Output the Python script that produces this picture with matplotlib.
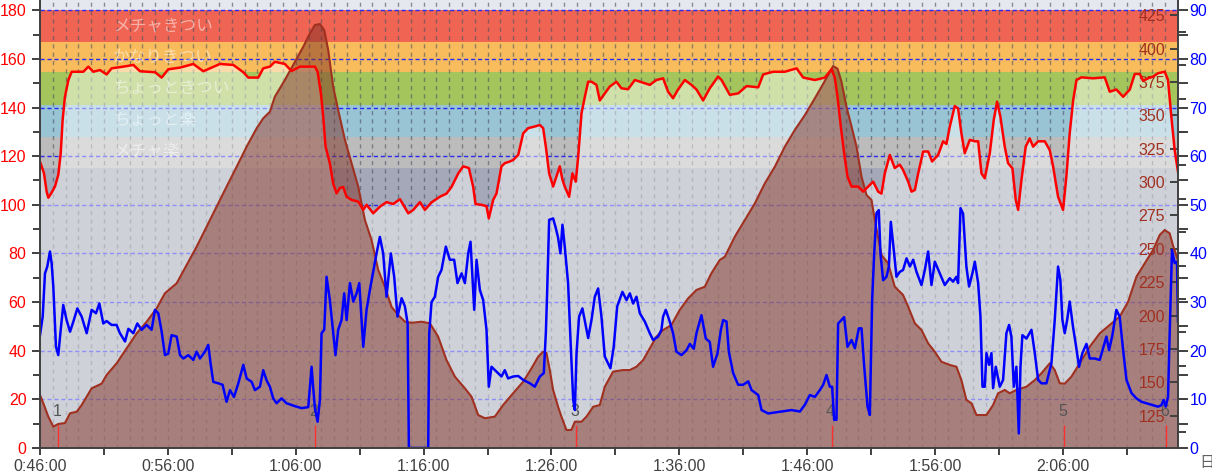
import matplotlib
matplotlib.use("Agg")
import matplotlib.pyplot as plt
from matplotlib.ticker import FuncFormatter, MultipleLocator
import numpy as np

plt.rcParams["font.family"] = ["Liberation Sans", "DejaVu Sans"]

# elapsed time in minutes, heart rate (bpm)
hr_min = [46.0, 46.31, 46.52, 46.65, 46.91, 47.17, 47.43, 47.62, 47.77, 47.95,
          48.22, 48.48, 49.39, 49.78, 50.17, 50.69, 51.21, 51.6, 52.52, 53.3,
          53.82, 55.0, 55.51, 56.03, 56.95, 57.99, 58.77, 60.07, 61.12, 61.9,
          62.29, 63.07, 63.46, 63.98, 64.37, 65.15, 65.67, 66.33, 67.5, 67.71,
          67.97, 68.15, 68.33, 68.67, 68.93, 69.19, 69.45, 69.71, 69.98, 70.37,
          70.89, 71.28, 71.54, 72.06, 72.58, 73.1, 73.62, 74.15, 74.8, 75.19,
          75.71, 76.1, 76.62, 77.27, 77.79, 78.18, 78.71, 79.1, 79.54, 79.88,
          80.06, 80.53, 80.92, 81.1, 81.44, 81.7, 82.09, 82.35, 82.74, 83.0,
          83.4, 83.79, 84.18, 84.7, 85.09, 85.35, 85.56, 85.82, 86.13, 86.39,
          86.65, 86.86, 87.04, 87.38, 87.64, 87.9, 88.09, 88.35, 88.61, 88.87,
          89.13, 89.52, 89.78, 90.17, 90.56, 91.08, 91.47, 91.99, 92.52, 93.17,
          93.69, 94.21, 94.73, 95.12, 95.51, 95.9, 96.43, 96.95, 97.34, 97.86,
          98.38, 99.03, 99.3, 99.95, 100.6, 101.26, 102.17, 102.56, 103.34, 104.25,
          105.17, 105.69, 106.6, 107.38, 107.9, 108.16, 108.37, 108.63, 108.89, 109.15,
          109.47, 109.99, 110.38, 110.77, 111.16, 111.55, 111.81, 112.07, 112.46, 112.85,
          113.24, 113.5, 113.9, 114.16, 114.42, 114.68, 115.07, 115.46, 115.77, 116.24,
          116.63, 116.89, 117.15, 117.54, 117.8, 118.06, 118.32, 118.72, 119.11, 119.37,
          119.63, 119.89, 120.28, 120.59, 120.85, 121.11, 121.45, 121.71, 122.05, 122.31,
          122.5, 122.76, 123.09, 123.4, 123.67, 124.06, 124.58, 124.97, 125.23, 125.62,
          126.01, 126.27, 126.53, 126.8, 127.06, 127.45, 128.36, 129.27, 129.66, 130.18,
          130.71, 131.23, 131.62, 132.01, 132.27, 132.66, 133.05, 133.44, 133.96, 134.22,
          134.48, 134.74, 135.0]
hr_bpm = [117.7, 113.0, 105.4, 102.9, 105.0, 107.5, 112.3, 121.2, 134.9, 144.4,
          151.3, 154.7, 154.7, 156.8, 154.7, 155.4, 153.6, 156.1, 156.8, 157.5,
          154.9, 154.5, 152.3, 155.7, 156.4, 157.9, 154.9, 157.9, 157.5, 154.5,
          152.3, 152.3, 156.1, 156.8, 158.8, 157.9, 155.0, 156.8, 156.8, 154.7,
          145.8, 136.2, 124.0, 117.0, 108.7, 104.7, 106.9, 107.3, 103.3, 102.0,
          101.3, 97.9, 100.0, 96.5, 99.2, 101.1, 100.3, 102.3, 96.5, 97.9,
          101.1, 97.9, 101.0, 103.3, 104.6, 107.3, 112.9, 115.8, 115.1, 107.3,
          100.3, 100.0, 99.4, 94.4, 102.0, 104.6, 115.8, 117.1, 117.8, 118.4,
          120.5, 129.4, 131.5, 132.2, 132.8, 131.5, 123.9, 112.9, 107.5, 111.6,
          115.8, 110.3, 107.5, 103.3, 112.9, 109.5, 119.8, 137.6, 144.4, 150.6,
          150.6, 149.3, 142.9, 145.8, 148.6, 150.6, 147.9, 147.5, 151.3, 150.2,
          149.3, 151.3, 152.0, 146.5, 143.8, 147.4, 151.3, 149.3, 147.4, 142.9,
          147.9, 152.7, 151.3, 145.2, 145.8, 148.8, 148.3, 153.6, 154.7, 154.7,
          156.1, 152.3, 151.3, 152.3, 155.7, 152.3, 144.4, 132.1, 121.2, 111.6,
          107.5, 107.5, 105.4, 107.5, 109.5, 105.4, 104.6, 112.9, 120.5, 115.1,
          116.5, 114.3, 109.5, 105.4, 106.1, 112.9, 121.9, 121.9, 117.8, 120.5,
          126.1, 125.0, 132.1, 140.6, 139.6, 129.4, 121.2, 126.7, 126.1, 126.1,
          112.9, 110.9, 121.2, 134.9, 142.4, 136.2, 123.9, 117.1, 115.0, 102.0,
          97.9, 110.3, 123.9, 127.3, 123.9, 126.1, 126.1, 122.5, 115.8, 103.3,
          97.9, 111.6, 129.4, 142.9, 151.3, 152.4, 152.0, 152.4, 146.5, 147.4,
          144.4, 147.4, 153.8, 153.8, 151.0, 152.0, 152.7, 154.1, 154.7, 151.3,
          136.2, 122.5, 113.6]

# speed (km/h)
spd_min = [46.0, 46.21, 46.39, 46.57, 46.78, 46.91, 47.04, 47.25, 47.43, 47.62,
           47.82, 48.08, 48.35, 48.61, 48.92, 49.26, 49.65, 50.04, 50.38, 50.64,
           50.95, 51.21, 51.6, 51.99, 52.25, 52.65, 52.91, 53.3, 53.61, 53.95,
           54.34, 54.73, 54.99, 55.25, 55.51, 55.77, 56.03, 56.29, 56.69, 56.95,
           57.21, 57.6, 57.99, 58.25, 58.51, 58.9, 59.16, 59.34, 59.55, 59.94,
           60.28, 60.59, 60.86, 61.17, 61.51, 61.9, 62.16, 62.55, 62.81, 63.2,
           63.46, 63.72, 63.98, 64.24, 64.5, 64.89, 65.28, 65.94, 66.46, 66.98,
           67.24, 67.37, 67.5, 67.71, 67.89, 68.02, 68.23, 68.41, 68.67, 68.93,
           69.11, 69.32, 69.58, 69.79, 69.98, 70.24, 70.5, 70.76, 70.97, 71.28,
           71.54, 71.8, 72.06, 72.32, 72.58, 72.84, 73.1, 73.44, 73.7, 73.96,
           74.28, 74.54, 74.75, 74.85, 76.36, 76.44, 76.62, 76.88, 77.14, 77.4,
           77.74, 78.05, 78.39, 78.65, 78.97, 79.23, 79.49, 79.67, 79.96, 80.14,
           80.4, 80.66, 80.92, 81.1, 81.31, 81.7, 82.09, 82.35, 82.61, 83.0,
           83.4, 83.79, 84.31, 84.7, 85.09, 85.4, 85.56, 85.66, 85.82, 86.13,
           86.34, 86.52, 86.7, 86.86, 87.04, 87.3, 87.49, 87.7, 87.83, 87.96,
           88.16, 88.42, 88.69, 88.87, 89.13, 89.39, 89.65, 89.91, 90.17, 90.61,
           90.87, 91.14, 91.55, 91.87, 92.13, 92.39, 92.65, 92.91, 93.3, 93.69,
           93.95, 94.34, 94.6, 94.73, 94.94, 95.25, 95.51, 95.77, 96.17, 96.56,
           96.82, 97.13, 97.34, 97.73, 98.07, 98.38, 98.64, 98.99, 99.25, 99.43,
           99.69, 99.87, 100.21, 100.6, 100.99, 101.39, 101.65, 102.17, 102.43, 102.95,
           103.99, 104.77, 105.43, 105.82, 106.21, 106.6, 106.99, 107.25, 107.51, 107.77,
           107.95, 108.11, 108.29, 108.42, 108.68, 108.89, 109.15, 109.47, 109.73, 110.04,
           110.25, 110.46, 110.72, 110.9, 111.08, 111.24, 111.42, 111.6, 111.73, 111.94,
           112.2, 112.39, 112.54, 112.8, 112.98, 113.24, 113.5, 113.77, 114.03, 114.29,
           114.55, 114.94, 115.2, 115.46, 115.72, 115.98, 116.37, 116.76, 117.15, 117.41,
           117.67, 117.8, 117.99, 118.19, 118.45, 118.66, 118.92, 119.11, 119.37, 119.55,
           119.71, 119.89, 120.02, 120.23, 120.41, 120.54, 120.75, 121.06, 121.32, 121.58,
           121.79, 121.97, 122.16, 122.36, 122.55, 122.68, 122.83, 123.15, 123.54, 123.8,
           124.06, 124.32, 124.71, 125.1, 125.36, 125.62, 125.8, 125.96, 126.14, 126.33,
           126.53, 126.79, 127.0, 127.26, 127.52, 127.84, 128.1, 128.49, 128.88, 129.14,
           129.4, 129.61, 129.87, 130.18, 130.44, 130.71, 130.97, 131.36, 131.75, 132.14,
           132.53, 133.05, 133.44, 133.7, 133.88, 134.04, 134.22, 134.35, 134.53, 134.74,
           134.92, 135.0]
spd_kmh = [23.2, 27.0, 35.9, 37.3, 40.4, 38.0, 33.2, 20.8, 19.1, 24.3,
           29.4, 26.3, 23.9, 26.0, 28.7, 27.0, 23.6, 28.4, 27.7, 29.7,
           25.6, 26.1, 25.3, 25.3, 23.6, 21.9, 24.5, 23.6, 25.6, 24.3,
           25.3, 24.3, 28.4, 27.7, 24.0, 19.1, 19.4, 23.2, 22.9, 19.1,
           18.4, 19.1, 18.1, 19.8, 18.4, 19.8, 21.2, 17.4, 13.6, 13.3,
           13.0, 9.5, 11.9, 10.5, 13.3, 17.1, 14.3, 13.6, 11.9, 12.6,
           16.0, 13.9, 12.6, 10.2, 9.2, 10.2, 9.2, 8.6, 8.2, 8.4,
           16.7, 12.3, 8.2, 5.4, 9.9, 23.6, 24.3, 35.2, 30.4, 23.6,
           19.1, 24.3, 26.3, 31.8, 26.3, 33.9, 30.1, 31.8, 33.9, 20.8,
           28.4, 32.5, 36.2, 40.0, 43.4, 40.0, 31.1, 40.0, 35.2, 27.0,
           30.8, 29.1, 25.6, 0.0, 0.0, 23.6, 30.0, 31.1, 35.2, 36.6,
           41.4, 38.7, 38.7, 33.9, 35.9, 33.9, 40.0, 42.4, 28.4, 38.7,
           32.5, 30.4, 24.3, 12.6, 16.7, 15.7, 14.7, 16.0, 14.3, 14.7,
           14.8, 14.0, 13.3, 12.6, 14.7, 15.4, 23.6, 31.8, 46.9, 47.2,
           45.2, 43.2, 40.0, 45.9, 41.4, 33.9, 22.2, 9.9, 7.8, 19.5,
           27.0, 28.7, 25.0, 22.6, 26.3, 31.1, 32.8, 27.0, 18.8, 16.4,
           20.8, 29.1, 32.1, 30.4, 31.8, 29.7, 31.1, 27.7, 26.0, 23.6,
           22.2, 22.9, 24.3, 27.0, 28.4, 26.0, 23.6, 19.8, 19.1, 20.1,
           21.4, 20.4, 23.6, 27.3, 22.5, 21.8, 16.7, 19.5, 24.3, 26.3,
           26.0, 19.8, 15.4, 13.0, 13.0, 13.7, 11.9, 10.9, 7.8, 7.1,
           7.5, 7.8, 7.5, 8.9, 10.9, 10.5, 11.9, 13.0, 15.0, 12.6,
           12.6, 5.8, 5.8, 25.6, 26.3, 26.9, 20.8, 22.2, 20.5, 24.6,
           24.6, 16.7, 8.5, 6.8, 30.4, 40.0, 48.3, 48.9, 40.0, 34.5,
           35.2, 37.3, 46.5, 40.0, 35.2, 36.2, 36.6, 39.0, 37.3, 38.7,
           36.2, 33.5, 36.6, 40.4, 33.5, 38.3, 35.9, 33.5, 34.9, 34.2,
           35.2, 33.9, 49.3, 48.2, 37.3, 33.2, 35.9, 38.3, 33.9, 27.0,
           12.6, 12.6, 19.5, 17.1, 19.5, 12.3, 16.7, 12.6, 14.0, 23.6,
           25.3, 22.9, 12.6, 16.7, 3.0, 16.7, 23.2, 22.5, 24.3, 19.5,
           14.0, 13.3, 13.3, 17.4, 26.3, 37.3, 34.5, 26.3, 23.6, 26.3,
           30.1, 24.9, 21.4, 16.7, 19.5, 21.4, 18.4, 18.4, 18.1, 20.5,
           22.9, 20.1, 23.2, 28.4, 27.0, 20.1, 14.0, 11.3, 10.2, 9.5,
           9.2, 8.8, 8.5, 8.8, 9.9, 8.5, 10.5, 23.6, 40.7, 38.0,
           38.3, 26.0]

# altitude (m)
alt_min = [46.0, 46.26, 46.65, 47.04, 47.43, 47.95, 48.35, 48.87, 49.26, 50.04,
           50.82, 51.21, 51.99, 52.78, 53.56, 54.34, 55.12, 55.77, 56.69, 57.47,
           58.25, 59.03, 59.81, 60.59, 61.38, 62.16, 62.94, 63.46, 63.98, 64.37,
           65.15, 65.94, 66.59, 67.11, 67.5, 67.89, 68.23, 68.54, 68.93, 69.32,
           69.85, 70.37, 70.89, 71.41, 71.93, 72.45, 72.97, 73.49, 74.01, 74.54,
           75.06, 75.84, 76.49, 77.14, 77.79, 78.45, 79.23, 79.75, 80.27, 80.79,
           81.57, 82.22, 83.0, 83.79, 84.44, 84.96, 85.35, 85.61, 85.87, 86.13,
           86.52, 86.78, 87.17, 87.56, 87.83, 88.35, 88.74, 89.26, 89.78, 90.17,
           90.82, 91.6, 92.13, 92.65, 93.17, 93.69, 94.21, 94.73, 95.38, 96.03,
           96.69, 97.34, 97.99, 98.51, 99.16, 99.56, 100.34, 101.13, 101.91, 102.69,
           103.47, 104.25, 105.03, 105.82, 106.6, 107.12, 107.64, 108.03, 108.37, 108.68,
           109.07, 109.47, 109.86, 110.25, 110.64, 111.03, 111.29, 111.81, 112.33, 112.85,
           113.5, 113.9, 114.42, 114.94, 115.46, 115.98, 116.5, 117.15, 117.67, 118.06,
           118.45, 118.85, 119.24, 120.02, 120.54, 120.93, 121.45, 121.84, 122.36, 123.15,
           123.8, 124.32, 124.97, 125.36, 125.75, 126.14, 126.66, 127.31, 128.1, 128.88,
           129.66, 130.44, 131.1, 131.75, 132.4, 133.05, 133.57, 133.96, 134.35, 134.61,
           135.0]
alt_m = [140.5, 134.3, 124.3, 116.8, 118.8, 119.5, 126.8, 128.0, 133.0, 145.5,
         149.0, 155.5, 164.2, 175.5, 186.7, 195.4, 205.4, 216.7, 224.2, 237.9,
         251.6, 266.6, 281.6, 296.5, 311.5, 326.5, 340.3, 347.8, 352.7, 364.0,
         376.5, 390.2, 401.4, 411.4, 417.7, 418.4, 413.9, 399.0, 371.4, 354.0,
         331.5, 314.1, 296.5, 271.6, 256.6, 234.2, 221.6, 206.6, 200.4, 195.4,
         194.6, 195.4, 194.2, 184.2, 166.7, 154.2, 145.5, 139.2, 125.5, 123.1,
         124.3, 133.0, 141.8, 150.5, 160.5, 169.2, 172.9, 172.0, 159.2, 144.3,
         131.7, 124.3, 114.3, 114.3, 120.5, 120.5, 124.3, 131.7, 133.0, 146.7,
         158.0, 159.2, 159.2, 161.7, 166.7, 175.5, 184.2, 189.2, 192.9, 204.2,
         212.9, 219.2, 221.6, 231.7, 241.6, 244.1, 259.1, 271.6, 284.1, 299.1,
         311.5, 326.5, 339.0, 350.2, 362.8, 371.4, 380.2, 386.9, 385.0, 375.2,
         356.5, 341.5, 326.5, 304.0, 290.3, 286.6, 271.6, 245.4, 239.2, 221.6,
         215.4, 206.6, 194.2, 189.2, 179.2, 172.9, 165.4, 163.0, 161.7, 151.7,
         136.8, 134.3, 125.5, 125.5, 133.0, 141.8, 144.3, 141.8, 144.3, 146.7,
         151.7, 156.8, 164.2, 159.2, 149.3, 149.0, 154.2, 164.2, 176.7, 186.7,
         192.9, 199.2, 210.4, 229.1, 239.2, 249.1, 260.4, 264.1, 261.6, 252.4,
         241.6]

lap_min = [47.41, 67.5, 87.91, 107.92, 126.06, 134.07]
lap_labels = ["1", "2", "3", "4", "5", "6"]

zone_names = ["メチャ楽", "ちょっと楽", "ちょっときつい", "かなりきつい", "メチャきつい"]
zone_edges = [115, 128, 141, 154.5, 167, 180]
zone_colors = ["#bcbcbc", "#98c4d4", "#a4c45c", "#f8bc5c", "#f06454"]
below_color = "#a4a8b8"
above_color = "#e6e8f0"

TICK = "#404040"

fig = plt.figure(figsize=(12.12, 4.75), dpi=100)
ax = fig.add_axes([40 / 1212, 27 / 475, 1138 / 1212, 448 / 475])
ax_alt = ax.twinx()
ax_hr = ax.twinx()
ax_spd = ax.twinx()
for z, a in enumerate([ax, ax_alt, ax_hr, ax_spd]):
    a.set_zorder(z + 1)
    for s in a.spines.values():
        s.set_visible(False)
ax.patch.set_visible(False)

ax.set_xlim(46, 135)
ax.set_ylim(0, 184.2)
ax_hr.set_ylim(0, 184.2)
ax_alt.set_ylim(100.8, 436.4)
ax_spd.set_ylim(0, 92.1)

# heart-rate zones
ax.axhspan(0, zone_edges[0], color=below_color, lw=0, zorder=0.1)
for lo, hi, c in zip(zone_edges[:-1], zone_edges[1:], zone_colors):
    ax.axhspan(lo, hi, color=c, lw=0, zorder=0.1)
ax.axhspan(zone_edges[-1], 190, color=above_color, lw=0, zorder=0.1)

# grid
ax.vlines(np.arange(47, 135), 0, 1, transform=ax.get_xaxis_transform(),
          colors="#4a5060", lw=1, linestyles=(0, (3, 3)), alpha=0.6, zorder=0.5)
ax.hlines(np.arange(20, 181, 20), 0, 1, transform=ax.get_yaxis_transform(),
          colors="#2a2af0", lw=1, linestyles=(0, (3, 2)), zorder=0.5)

# pale tint under the heart-rate curve
ax.fill_between(hr_min, 0, hr_bpm, color="white", alpha=0.48, lw=0, zorder=0.8)

for lo, hi, name in zip(zone_edges[:-1], zone_edges[1:], zone_names):
    ax.text(0.064, (lo + hi) / 2, name, transform=ax.get_yaxis_transform(),
            color="white", alpha=0.5, fontsize=12, va="center", ha="left",
            family=["Noto Sans CJK JP", "DejaVu Sans"], zorder=0.9)

# altitude
ax_alt.fill_between(alt_min, 0, alt_m, color="#803024", alpha=0.5, lw=0)
ax_alt.plot(alt_min, alt_m, color="#a03020", lw=1.5)

# heart rate + laps
ax_hr.plot(hr_min, hr_bpm, color="#ff0000", lw=1.8)
ax_hr.vlines(lap_min, 0, 9.5, colors="#ff3030", lw=1)
for t, lbl in zip(lap_min, lap_labels):
    ax_hr.text(t - 0.1, 15.2, lbl, color="#555555", fontsize=11.5,
               ha="center", va="center")

# speed
ax_spd.plot(spd_min, spd_kmh, color="#0000ff", lw=1.8)

# x axis
ax.set_xticks(np.arange(46, 135, 10))
ax.set_xticks(np.arange(51, 135, 10), minor=True)
ax.xaxis.set_major_formatter(FuncFormatter(lambda m, _: f"{int(m) // 60}:{int(m) % 60:02d}:00"))
ax.tick_params(axis="x", which="both", direction="out", length=5, width=1.4,
               color=TICK, labelcolor=TICK, labelsize=11.5, pad=3)

# left axis (heart rate)
ax.yaxis.set_major_locator(MultipleLocator(20))
ax.yaxis.set_minor_locator(MultipleLocator(10))
ax.tick_params(axis="y", which="major", direction="out", length=5.8, width=1.4,
               color=TICK, labelcolor="#ff0000", labelsize=11.5, pad=4)
ax.tick_params(axis="y", which="minor", direction="out", length=5, width=1.4, color=TICK)

ax_hr.set_yticks([])
ax_hr.tick_params(right=False, labelright=False)

# altitude axis, labels inside the plot
ax_alt.set_yticks(np.arange(125, 426, 25))
ax_alt.set_yticks(np.arange(112.5, 437, 25), minor=True)
ax_alt.tick_params(axis="y", which="major", direction="in", length=5.8, width=1.4,
                   color=TICK, labelcolor="#a03020", labelsize=11.5, pad=-9.4)
ax_alt.tick_params(axis="y", which="minor", direction="out", length=5.8, width=1.4, color=TICK)
plt.setp(ax_alt.get_yticklabels(), ha="right")

# speed axis
ax_spd.set_yticks(np.arange(0, 91, 10))
ax_spd.set_yticks(np.arange(5, 91, 10), minor=True)
ax_spd.tick_params(axis="y", which="both", direction="out", length=7.2, width=1.4,
                   color=TICK, labelcolor="#0000ff", labelsize=11.5, pad=1)

for side in ["left", "bottom", "right"]:
    ax_spd.spines[side].set_visible(True)
    ax_spd.spines[side].set_color(TICK)
    ax_spd.spines[side].set_linewidth(1.4)

fig.text(1199 / 1212, 1 - 463 / 475, "日", color="#606060", fontsize=11,
         va="center", ha="left", family=["Noto Sans CJK JP", "DejaVu Sans"])

fig.savefig("out.png", dpi=100)
